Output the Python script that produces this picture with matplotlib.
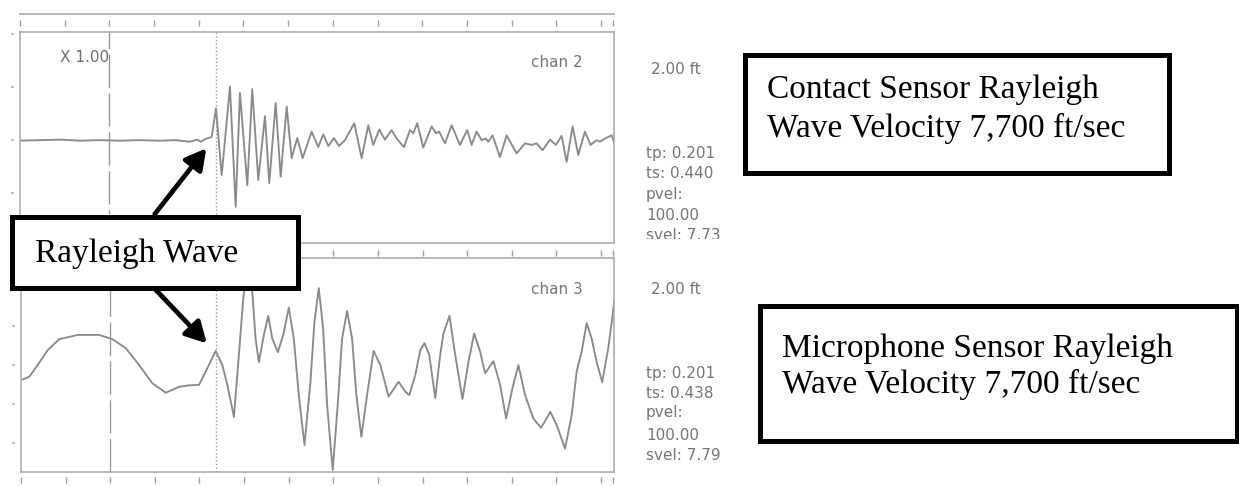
import matplotlib
matplotlib.use("Agg")
import matplotlib.pyplot as plt
from matplotlib.patches import Rectangle, FancyArrowPatch
from matplotlib.transforms import Bbox, TransformedBbox

# ---------------- data (time in ms, amplitude in panel divisions) ----------------
chan2_t = [0, 4.47, 8.95, 13.42, 17.9, 22.37, 26.85, 31.32, 34.68, 36.91, 38.03, 39.6,
           40.49, 41.39, 42.88, 43.85, 45.12, 46.98, 48.25, 49.21, 50.85, 51.97, 53.31,
           54.81, 55.77, 57.2, 58.32, 59.66, 60.78, 62.03, 63.24, 65.25, 66.73, 67.85,
           68.97, 70.24, 71.36, 72.71, 74.79, 76.44, 77.92, 79.03, 80.38, 81.65, 83.15,
           84.27, 85.91, 87.25, 87.99, 88.88, 90.22, 92.1, 93.06, 93.8, 95.08, 96.57,
           98.43, 100.06, 101.04, 102.16, 103.28, 104.25, 104.76, 105.74, 107.38, 108.88,
           111.12, 112.98, 114.47, 115.59, 116.93, 118.57, 119.91, 121.18, 122.3, 123.64,
           124.9, 126.4, 127.67, 129.01, 129.75, 130.87, 132.37, 132.88]
chan2_a = [-0.01, 0, 0.01, -0.01, 0, -0.01, 0, -0.01, 0, -0.02, -0.03, 0.01,
           -0.03, 0.02, 0.06, 0.60, -0.66, 1.01, -1.26, 0.89, -0.85, 0.96, -0.75,
           0.45, -0.81, 0.70, -0.69, 0.63, -0.34, 0.04, -0.34, 0.16, -0.13, 0.11,
           -0.11, 0.04, -0.11, 0, 0.32, -0.34, 0.28, -0.09, 0.20, 0.01, 0.19,
           0.03, -0.13, 0.19, 0.13, 0.32, -0.14, 0.26, 0.13, 0.16, -0.06, 0.28,
           -0.09, 0.19, -0.09, 0.16, 0, 0.03, -0.03, 0.09, -0.32, 0.09,
           -0.25, -0.06, -0.09, -0.06, -0.19, 0.01, -0.09, 0.08, -0.41, 0.26,
           -0.28, 0.16, -0.09, 0, -0.03, 0.03, 0.09, -0.03]

chan3_t = [0.38, 1.86, 3.74, 5.97, 8.57, 12.68, 17.52, 20.51, 23.49, 26.46, 29.46, 32.44,
           35.41, 37.65, 39.89, 41.77, 43.62, 45.12, 46.24, 47.72, 48.83, 49.82, 50.78,
           51.83, 52.57, 53.31, 54.43, 55.41, 56.31, 57.56, 58.77, 60.02, 61.14, 62.26,
           63.53, 64.87, 65.77, 66.73, 67.71, 68.61, 69.86, 70.98, 71.96, 73.08, 74.2,
           75.16, 76.28, 77.56, 79.03, 80.53, 82.39, 84.62, 86.12, 87.02, 88.36, 89.48,
           90.44, 91.49, 92.84, 93.95, 94.69, 96.03, 97.31, 98.94, 100.28, 101.56, 102.9,
           104.02, 105.88, 107.38, 108.72, 110.13, 111.47, 112.97, 114.83, 116.55, 118.63,
           120.06, 121.92, 123.42, 124.53, 125.65, 126.77, 127.89, 129.01, 130.26, 131.6,
           132.5, 133.0]
chan3_a = [-0.37, -0.30, 0, 0.38, 0.66, 0.77, 0.77, 0.66, 0.43, 0, -0.47, -0.71,
           -0.56, -0.52, -0.51, -0.08, 0.36, 0, -0.51, -1.33, 0.26, 1.71, 2.64,
           1.88, 0.68, 0.07, 0.77, 1.26, 0.68, 0.33, 0.77, 1.47, 0.68, -0.77,
           -2.05, -0.43, 1.11, 1.97, 0.94, -1.03, -2.69, -1.03, 0.68, 1.38, 0.68,
           -0.77, -1.84, -0.77, 0.36, 0, -0.81, -0.43, -0.68, -0.77, -0.26, 0.38,
           0.56, 0.26, -0.85, 0.26, 0.81, 1.26, 0.26, -0.87, 0.08, 0.81, 0.34,
           -0.21, 0.10, -0.51, -1.37, -0.60, 0, -0.77, -1.37, -1.61, -1.20,
           -1.54, -2.14, -1.28, -0.17, 0.34, 1.07, 0.68, 0.08, -0.44, 0.43,
           1.20, 1.67]

ruler_ticks = [0, 10, 20, 30, 40, 50, 60, 70, 80, 90, 100, 110, 120, 130, 132.6]
t_end = 132.9
trigger_t = 20.0      # dashed line
pick_t = 43.8         # dotted line (tp)

chan2_info = ["tp: 0.201", "ts: 0.440", "pvel:", "100.00", "svel: 7.73"]
chan3_info = ["tp: 0.201", "ts: 0.438", "pvel:", "100.00", "svel: 7.79"]

# ---------------- figure ----------------
W, H = 1239, 486
fig = plt.figure(figsize=(W / 100, H / 100), dpi=100)
fig.patch.set_facecolor("white")


def fx(px):
    return px / W


def fy(py):
    return 1 - py / H


GREY_LINE = "#8a8a8a"
GREY_FRAME = "#a6a6a6"
GREY_TEXT = "#767676"
TICK_C = "#a0a0a0"


def make_panel(box, ylim, left_ticks, trace_t, trace_a, label, top_ruler_loc,
               top_line_loc=None, bottom_ruler_loc=None):
    ax = fig.add_axes(box)
    ax.set_xlim(0, t_end)
    ax.set_ylim(*ylim)
    ax.set_xticks([])
    ax.set_yticks([])
    for s in ax.spines.values():
        s.set_color(GREY_FRAME)
        s.set_linewidth(1.1)
    ax.plot(trace_t, trace_a, color=GREY_LINE, lw=1.35, solid_joinstyle="round")
    ax.axvline(trigger_t, color="#999999", lw=1.0, dashes=(24, 4))
    ax.axvline(pick_t, color="#999999", lw=1.0, dashes=(1, 1.6))
    ax.text(0.948, 0.855, label, transform=ax.transAxes, ha="right", va="center",
            fontsize=11, color=GREY_TEXT)

    # ruler ticks above
    sec = ax.secondary_xaxis(top_ruler_loc)
    sec.set_xticks(ruler_ticks)
    sec.tick_params(direction="out", length=4.5, width=1.0, color=TICK_C,
                    labeltop=False, labelbottom=False)
    for s in sec.spines.values():
        s.set_visible(False)
    if top_line_loc is not None:
        ln = ax.secondary_xaxis(top_line_loc)
        ln.set_xticks([])
        ln.spines["top"].set_color("#b0b0b0")
        ln.spines["top"].set_linewidth(1.3)
        ln.spines["bottom"].set_visible(False)
    if bottom_ruler_loc is not None:
        sb = ax.secondary_xaxis(bottom_ruler_loc)
        sb.set_xticks(ruler_ticks)
        sb.tick_params(direction="out", length=4.5, width=1.0, color=TICK_C,
                       labeltop=False, labelbottom=False)
        for s in sb.spines.values():
            s.set_visible(False)
    # small amplitude ticks on the left
    sy = ax.secondary_yaxis(-0.010)
    sy.set_yticks(left_ticks)
    sy.tick_params(direction="out", length=2.0, width=1.2, color="#b5b5b5",
                   labelleft=False, labelright=False)
    for s in sy.spines.values():
        s.set_visible(False)
    return ax


ax1 = make_panel([fx(20), fy(243), fx(614) - fx(20), fy(32) - fy(243)],
                 (-1.94, 2.04), [2, 1, 0, -1], chan2_t, chan2_a, "chan 2",
                 top_ruler_loc=(243 - 26) / 211, top_line_loc=(243 - 14) / 211)
ax1.text(0.067, 0.88, "X 1.00", transform=ax1.transAxes, ha="left", va="center",
         fontsize=11, color="#6e6e6e")

ax2 = make_panel([fx(21), fy(472), fx(614) - fx(21), fy(258) - fy(472)],
                 (-2.74, 2.74), [2, 1, 0, -1, -2], chan3_t, chan3_a, "chan 3",
                 top_ruler_loc=(472 - 256) / 214, bottom_ruler_loc=(472 - 477) / 214)

# ---------------- right-hand readouts ----------------
fig.text(fx(651), fy(70), "2.00 ft", fontsize=11, color=GREY_TEXT, va="center")
fig.text(fx(651), fy(290), "2.00 ft", fontsize=11, color=GREY_TEXT, va="center")
for i, (ya, yb) in enumerate(zip([153, 173, 194, 215, 235], [373, 393, 413, 435, 456])):
    t1 = fig.text(fx(646), fy(ya), chan2_info[i], fontsize=11, color=GREY_TEXT, va="center")
    if i == 4:
        t1.set_clip_box(TransformedBbox(Bbox([[0, fy(239)], [1, 1]]), fig.transFigure))
        t1.set_clip_on(True)
    fig.text(fx(646), fy(yb), chan3_info[i], fontsize=11, color=GREY_TEXT, va="center")

# ---------------- annotation boxes ----------------
SERIF = "Liberation Serif"
LW_BOX = 3.6


def box(x0, y0, x1, y1, face="none"):
    r = Rectangle((fx(x0), fy(y1)), fx(x1) - fx(x0), fy(y0) - fy(y1),
                  transform=fig.transFigure, lw=LW_BOX, ec="black", fc=face,
                  zorder=5, joinstyle="miter")
    fig.add_artist(r)


box(745.5, 55.5, 1168.5, 173.5)
fig.text(fx(767), fy(98.3), "Contact Sensor Rayleigh", family=SERIF, fontsize=24,
         va="baseline", zorder=7)
fig.text(fx(767), fy(136.7), "Wave Velocity 7,700 ft/sec", family=SERIF, fontsize=24,
         va="baseline", zorder=7)

box(759.5, 305.5, 1236.5, 440.5)
fig.text(fx(782), fy(356.7), "Microphone Sensor Rayleigh", family=SERIF, fontsize=24,
         va="baseline", zorder=7)
fig.text(fx(782), fy(393.3), "Wave Velocity 7,700 ft/sec", family=SERIF, fontsize=24,
         va="baseline", zorder=7)

box(11.8, 216.5, 297.5, 287.5, face="white")
fig.text(fx(35), fy(261.7), "Rayleigh Wave", family=SERIF, fontsize=24,
         va="baseline", zorder=7)

for (xa, ya), (xb, yb) in [((154.8, 214.0), (206.3, 148.3)),
                           ((155.0, 289.0), (206.7, 343.3))]:
    arr = FancyArrowPatch((fx(xa), fy(ya)), (fx(xb), fy(yb)),
                          transform=fig.transFigure,
                          arrowstyle="-|>,head_length=0.62,head_width=0.34",
                          mutation_scale=20, lw=3.4, color="black",
                          shrinkA=0, shrinkB=0, zorder=6)
    fig.add_artist(arr)

fig.savefig("out.png", dpi=100)
